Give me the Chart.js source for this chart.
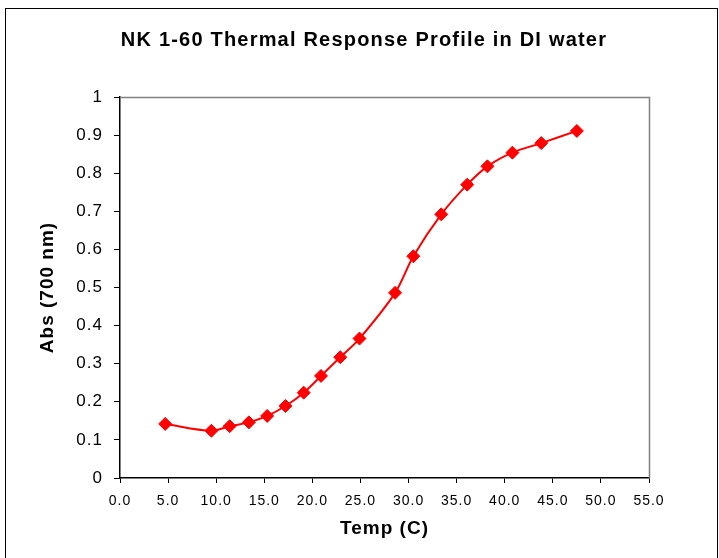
<!DOCTYPE html>
<html>
<head>
<meta charset="utf-8">
<script src="https://cdn.jsdelivr.net/npm/chart.js@4.4.1/dist/chart.umd.min.js"></script>
<style>
  html, body { margin: 0; padding: 0; background: #fff; }
  #wrap { width: 719px; height: 558px; position: relative; }
</style>
</head>
<body>
<div id="wrap"><canvas id="c" width="719" height="558"></canvas></div>
<script>
// Temperature (°C) of each reading and the absorbance measured at 700 nm
const temps = [4.7, 9.5, 11.4, 13.4, 15.3, 17.2, 19.1, 20.9, 22.9, 24.9, 28.6, 30.5, 33.4, 36.1, 38.2, 40.8, 43.8, 47.5];
const absorbance = [0.142, 0.124, 0.136, 0.146, 0.163, 0.189, 0.224, 0.268, 0.317, 0.366, 0.486, 0.582, 0.692, 0.770, 0.818, 0.854, 0.879, 0.911];

// Axis tick values
const xTickValues = [0, 5, 10, 15, 20, 25, 30, 35, 40, 45, 50, 55];
const yTickValues = [0, 0.1, 0.2, 0.3, 0.4, 0.5, 0.6, 0.7, 0.8, 0.9, 1];

const chartTitle = 'NK 1-60 Thermal Response Profile in DI water';
const xTitle = 'Temp (C)';
const yTitle = 'Abs (700 nm)';

const FONT = '"Liberation Sans", Arial, Helvetica, sans-serif';
Chart.defaults.font.family = FONT;
Chart.defaults.color = '#000';

// Outer frame, plot-area border, spaced lettering and the chart heading
const framePlugin = {
  id: 'frame',
  beforeDraw(chart) {
    chart.ctx.letterSpacing = '1px';
  },
  beforeDatasetsDraw(chart) {
    const { ctx, chartArea: a } = chart;
    ctx.save();
    ctx.strokeStyle = '#808080';
    ctx.lineWidth = 1.5;
    ctx.beginPath();
    ctx.moveTo(a.left, a.top + 0.5);
    ctx.lineTo(a.right + 0.5, a.top + 0.5);
    ctx.lineTo(a.right + 0.5, a.bottom);
    ctx.stroke();
    ctx.restore();
  },
  afterDraw(chart) {
    const { ctx } = chart;
    ctx.save();
    ctx.strokeStyle = '#000';
    ctx.lineWidth = 1;
    ctx.strokeRect(5.5, 8.5, 712, 560);
    ctx.fillStyle = '#000';
    ctx.font = 'bold 20px ' + FONT;
    ctx.letterSpacing = '1.2px';
    ctx.textAlign = 'center';
    ctx.textBaseline = 'middle';
    ctx.fillText(chartTitle, 364, 40);
    ctx.restore();
  }
};

new Chart(document.getElementById('c'), {
  type: 'line',
  data: {
    datasets: [{
      data: temps.map((t, i) => ({ x: t, y: absorbance[i] })),
      borderColor: '#FF0000',
      borderWidth: 2,
      backgroundColor: '#FF0000',
      pointStyle: 'rectRot',
      pointRadius: 6.5,
      pointBackgroundColor: '#FF0000',
      pointBorderColor: '#FF0000',
      pointBorderWidth: 1,
      tension: 0.35,
      fill: false
    }]
  },
  options: {
    responsive: false,
    animation: false,
    devicePixelRatio: 1,
    layout: { padding: { left: 5, right: 70, top: 97, bottom: 0 } },
    plugins: {
      legend: { display: false },
      title: { display: false },
      tooltip: { enabled: false }
    },
    scales: {
      x: {
        type: 'linear',
        min: 0,
        max: 55,
        afterBuildTicks: s => { s.ticks = xTickValues.map(v => ({ value: v })); },
        afterFit: s => { s.height = 80; },
        grid: { drawOnChartArea: false, drawTicks: true, tickLength: 5, color: '#000', lineWidth: 1 },
        border: { display: true, color: '#000', width: 1.5 },
        ticks: {
          font: { size: 14 },
          padding: 10,
          maxRotation: 0,
          autoSkip: false,
          callback: v => v.toFixed(1)
        },
        title: {
          display: true,
          text: xTitle,
          font: { size: 19, weight: 'bold' },
          padding: { top: 0, bottom: 18 }
        }
      },
      y: {
        type: 'linear',
        min: 0,
        max: 1,
        afterBuildTicks: s => { s.ticks = yTickValues.map(v => ({ value: v })); },
        afterFit: s => { s.width = 115; },
        grid: { drawOnChartArea: false, drawTicks: true, tickLength: 6, color: '#000', lineWidth: 1 },
        border: { display: true, color: '#000', width: 1.5 },
        ticks: {
          font: { size: 17 },
          padding: 11,
          autoSkip: false,
          callback: v => String(Math.round(v * 10) / 10)
        },
        title: {
          display: true,
          text: yTitle,
          font: { size: 19, weight: 'bold' },
          padding: { top: 31, bottom: 0 }
        }
      }
    }
  },
  plugins: [framePlugin]
});
</script>
</body>
</html>
